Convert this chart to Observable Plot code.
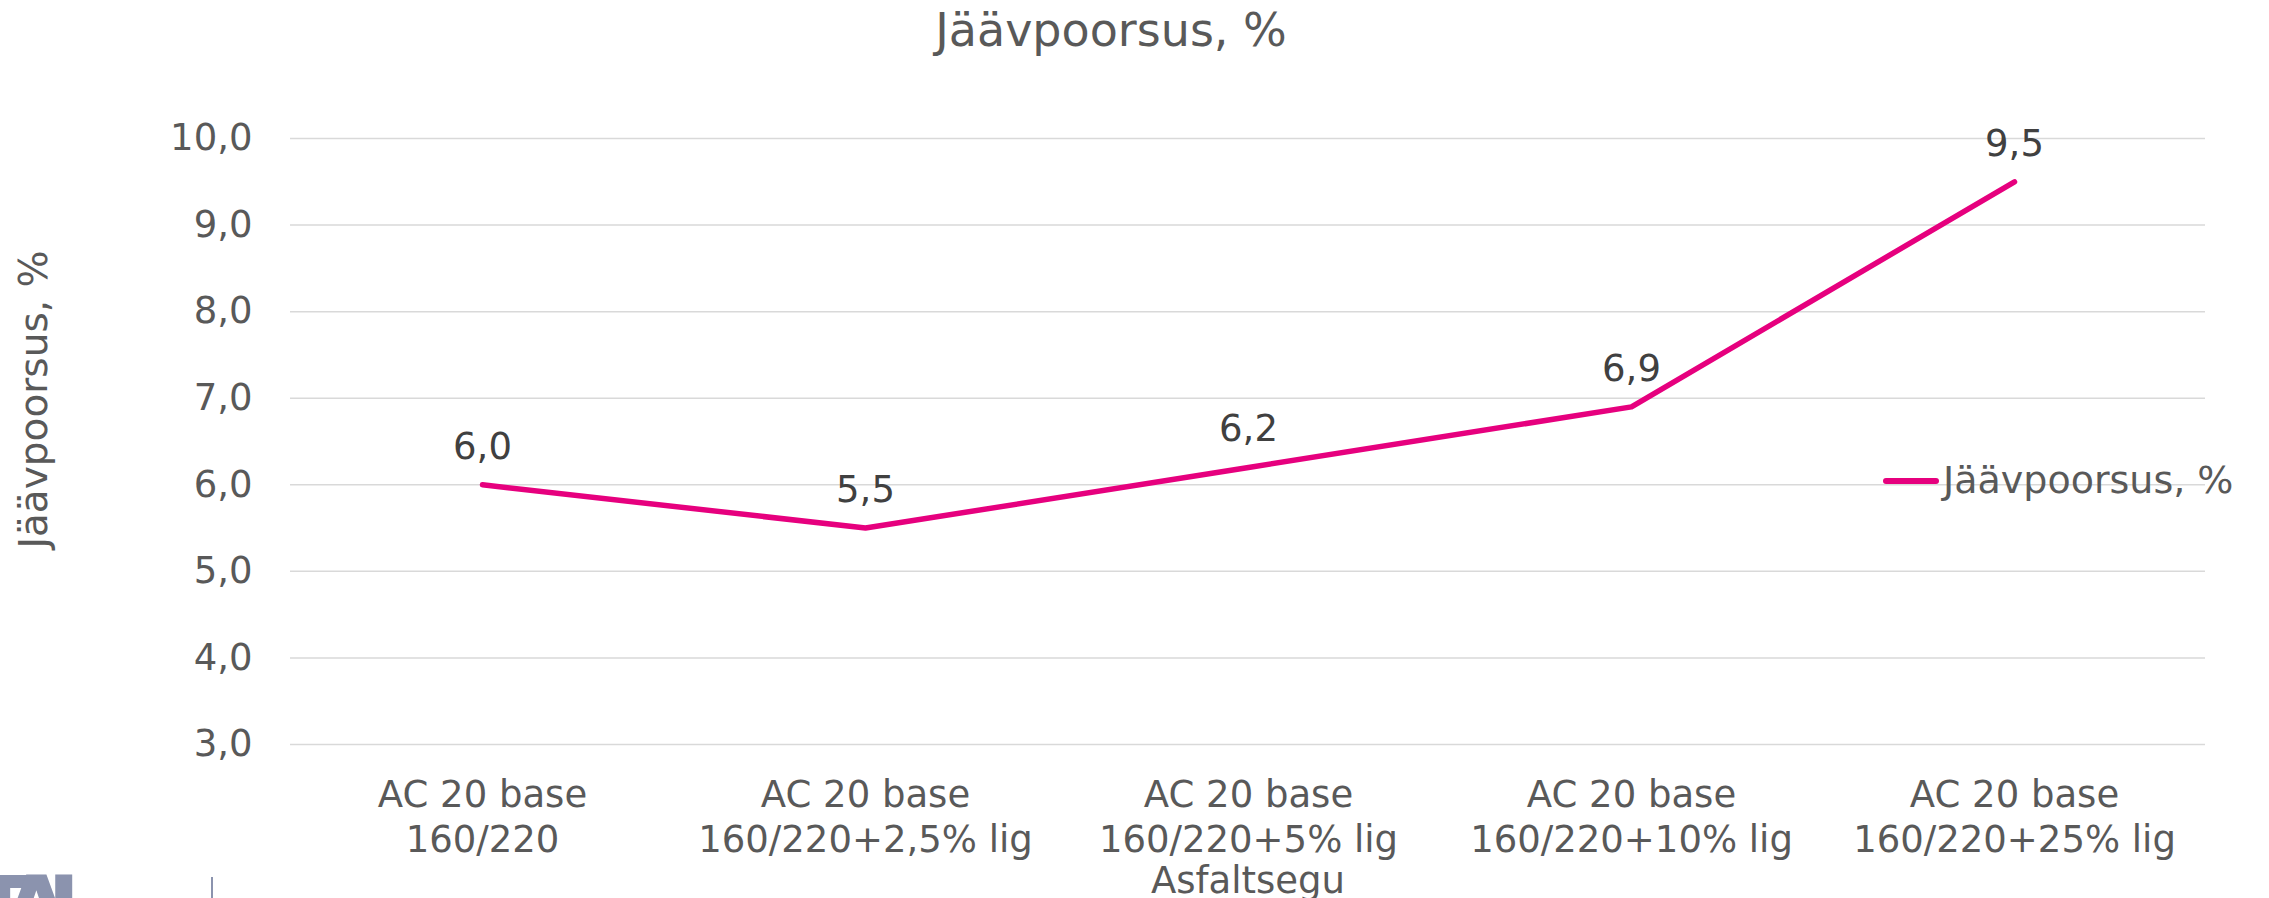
<!DOCTYPE html>
<html><head><meta charset="utf-8">
<script src="https://cdn.jsdelivr.net/npm/d3@7"></script>
<script src="https://cdn.jsdelivr.net/npm/@observablehq/plot@0.6"></script>
<style>
body{margin:0;background:#fff;}
#wrap{position:relative;width:2269px;height:898px;overflow:hidden;font-family:"DejaVu Sans",Verdana,sans-serif;background:#fff;}
#wrap svg{position:absolute;left:0;top:0;}
.legend-swatch{position:absolute;left:1883px;top:478px;width:56px;height:6px;background:#e6007e;border-radius:3px;}
.legend-text{position:absolute;left:1943px;top:458px;font-size:38px;line-height:44px;color:#595959;white-space:nowrap;}
.logo{position:absolute;left:-29px;top:860px;font-size:90px;font-weight:bold;color:#8b93ae;line-height:100px;letter-spacing:-24px;white-space:nowrap;}
.logo-rule{position:absolute;left:211px;top:877px;width:2px;height:21px;background:#8b93ae;}
</style></head><body><div id="wrap"></div>
<script>
const categories = [
  "AC 20 base\n160/220",
  "AC 20 base\n160/220+2,5% lig",
  "AC 20 base\n160/220+5% lig",
  "AC 20 base\n160/220+10% lig",
  "AC 20 base\n160/220+25% lig"
];
const values = [6.0, 5.5, 6.2, 6.9, 9.5];
const yTicks = [3, 4, 5, 6, 7, 8, 9, 10];
const seriesName = "Jäävpoorsus, %";
const chartTitle = "Jäävpoorsus, %";
const xTitle = "Asfaltsegu";
const yTitle = "Jäävpoorsus, %";

const data = categories.map((c, i) => ({c, v: values[i]}));
const fmt = d => d.toFixed(1).replace(".", ",");

const plot = Plot.plot({
  width: 2269, height: 898,
  marginLeft: 290, marginRight: 64, marginTop: 138, marginBottom: 154,
  style: {fontFamily: "'DejaVu Sans', Verdana, sans-serif", fontSize: "37px", color: "#595959", background: "white"},
  x: {type: "point", domain: categories, padding: 0.5},
  y: {domain: [3, 10]},
  marks: [
    Plot.ruleY(yTicks, {stroke: "#d9d9d9", strokeWidth: 1.5}),
    Plot.axisY({ticks: yTicks, tickSize: 0, tickPadding: 38, tickFormat: fmt, label: null, fontSize: 37, fill: "#595959"}),
    Plot.axisX({tickSize: 0, tickPadding: 31, tickFormat: d => d, lineHeight: 1.216, label: null, fill: "#595959", fontSize: 37}),
    Plot.line(data, {x: "c", y: "v", stroke: "#e6007e", strokeWidth: 5.5, strokeLinejoin: "round", strokeLinecap: "round"}),
    Plot.text(data, {x: "c", y: "v", text: d => fmt(d.v), dy: -26, lineAnchor: "bottom", fill: "#404040", fontSize: 37}),
    Plot.text([chartTitle], {frameAnchor: "top", dx: -137, dy: -93, lineAnchor: "bottom", fontSize: 46, fill: "#595959"}),
    Plot.text([xTitle], {frameAnchor: "bottom", dy: 148, lineAnchor: "bottom", fontSize: 37, fill: "#595959"}),
    Plot.text([yTitle], {frameAnchor: "left", textAnchor: "middle", rotate: -90, dx: -244, dy: -42, lineAnchor: "bottom", fontSize: 39, fill: "#595959"})
  ]
});
const wrap = document.getElementById("wrap");
wrap.appendChild(plot);

const sw = document.createElement("div"); sw.className = "legend-swatch"; wrap.appendChild(sw);
const lt = document.createElement("div"); lt.className = "legend-text"; lt.textContent = seriesName; wrap.appendChild(lt);
const logo = document.createElement("div"); logo.className = "logo"; logo.textContent = "TAL"; wrap.appendChild(logo);
const lr = document.createElement("div"); lr.className = "logo-rule"; wrap.appendChild(lr);
</script>
</body></html>
